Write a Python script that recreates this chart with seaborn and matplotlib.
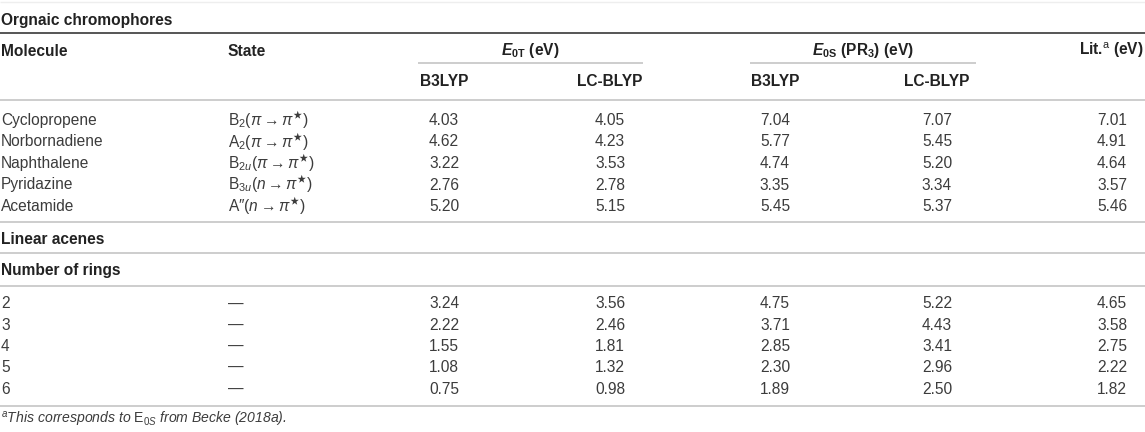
import matplotlib
matplotlib.use("Agg")
import matplotlib.pyplot as plt
import seaborn as sns
import pandas as pd

# table content
section_titles = ["Orgnaic chromophores", "Linear acenes", "Number of rings"]
header_labels = ["Molecule", "State", r"$\mathbfit{E}_{\mathbf{0T}}$ (eV)",
                 r"$\mathbfit{E}_{\mathbf{0S}}$ (PR$_{\mathbf{3}}$) (eV)", r"Lit.$^{\mathrm{a}}$ (eV)"]
method_labels = ["B3LYP", "LC-BLYP", "B3LYP", "LC-BLYP"]

molecules = ["Cyclopropene", "Norbornadiene", "Naphthalene", "Pyridazine", "Acetamide"]
states = [r"B$_{\mathrm{2}}$($\pi \rightarrow \pi^{★}$)",
          r"A$_{\mathrm{2}}$($\pi \rightarrow \pi^{★}$)",
          r"B$_{\mathrm{2}u}$($\pi \rightarrow \pi^{★}$)",
          r"B$_{\mathrm{3}u}$($n \rightarrow \pi^{★}$)",
          r"A″($n \rightarrow \pi^{★}$)"]
e0t_b3lyp_mol = [4.03, 4.62, 3.22, 2.76, 5.20]
e0t_lcblyp_mol = [4.05, 4.23, 3.53, 2.78, 5.15]
e0s_b3lyp_mol = [7.04, 5.77, 4.74, 3.35, 5.45]
e0s_lcblyp_mol = [7.07, 5.45, 5.20, 3.34, 5.37]
lit_mol = [7.01, 4.91, 4.64, 3.57, 5.46]

rings = ["2", "3", "4", "5", "6"]
ring_states = ["—"] * 5
e0t_b3lyp_ace = [3.24, 2.22, 1.55, 1.08, 0.75]
e0t_lcblyp_ace = [3.56, 2.46, 1.81, 1.32, 0.98]
e0s_b3lyp_ace = [4.75, 3.71, 2.85, 2.30, 1.89]
e0s_lcblyp_ace = [5.22, 4.43, 3.41, 2.96, 2.50]
lit_ace = [4.65, 3.58, 2.75, 2.22, 1.82]

footnote = r"$^{a}$This corresponds to $\mathrm{E}_{0S}$ from Becke (2018a)."

value_cols = ["e0t_b3lyp", "e0t_lcblyp", "e0s_b3lyp", "e0s_lcblyp", "lit"]
mol_df = pd.DataFrame({"name": molecules, "state": states,
                       "e0t_b3lyp": e0t_b3lyp_mol, "e0t_lcblyp": e0t_lcblyp_mol,
                       "e0s_b3lyp": e0s_b3lyp_mol, "e0s_lcblyp": e0s_lcblyp_mol,
                       "lit": lit_mol})
ace_df = pd.DataFrame({"name": rings, "state": ring_states,
                       "e0t_b3lyp": e0t_b3lyp_ace, "e0t_lcblyp": e0t_lcblyp_ace,
                       "e0s_b3lyp": e0s_b3lyp_ace, "e0s_lcblyp": e0s_lcblyp_ace,
                       "lit": lit_ace})

sns.set_theme(style="white")
plt.rcParams["font.family"] = ["Liberation Sans", "DejaVu Sans"]
plt.rcParams["mathtext.fontset"] = "custom"
plt.rcParams["mathtext.rm"] = "Liberation Sans"
plt.rcParams["mathtext.it"] = "Liberation Sans:italic"
plt.rcParams["mathtext.bf"] = "Liberation Sans:bold"
plt.rcParams["mathtext.bfit"] = "Liberation Sans:italic:bold"
plt.rcParams["mathtext.fallback"] = "stixsans"

fig = plt.figure(figsize=(11.45, 4.32), dpi=100)
ax = fig.add_axes([0, 0, 1, 1])
ax.set_xlim(0, 1145)
ax.set_ylim(432, 0)
ax.axis("off")

# layout (pixel coordinates)
name_x, state_x = 1, 228
col_centers = [444, 610, 775, 937, 1112]
fs = 11.2
dark = "#222222"
body = "#3c3c3c"
light_line = "#c9c9c9"


def put(x, y, s, ha="left", bold=False, color=body, size=fs, style="normal"):
    # y is the visual middle of the text line
    ax.text(x, y + 5.5, s, ha=ha, va="baseline", fontsize=size,
            fontweight="bold" if bold else "normal", color=color, fontstyle=style)


# rules
ax.hlines(1.5, 0, 1145, color="#eeeeee", lw=1.0)
ax.hlines(33, 0, 1145, color="#555555", lw=1.4)
ax.hlines(63, 418, 643, color=light_line, lw=1.3)
ax.hlines(63, 750, 976, color=light_line, lw=1.3)
for yy in [99.5, 222, 253, 286, 406]:
    ax.hlines(yy, 0, 1145, color=light_line, lw=1.3)

# section titles
for title, yy in zip(section_titles, [19, 238, 270]):
    put(name_x, yy, title, bold=True, color=dark)

# headers
put(name_x, 50, header_labels[0], bold=True, color=dark)
put(state_x, 50, header_labels[1], bold=True, color=dark)
put(530, 50, header_labels[2], ha="center", bold=True, color=dark)
put(863, 50, header_labels[3], ha="center", bold=True, color=dark)
put(1144, 50, header_labels[4], ha="right", bold=True, color=dark)
for lab, cx in zip(method_labels, col_centers[:4]):
    put(cx, 81, lab, ha="center", bold=True, color=dark)


def draw_block(df, y0, step):
    for i, row in df.iterrows():
        yy = y0 + step * i
        put(name_x, yy, row["name"])
        put(state_x, yy, row["state"])
        for col, cx in zip(value_cols, col_centers):
            put(cx, yy, f"{row[col]:.2f}", ha="center")


draw_block(mol_df, 119.5, 21.5)
draw_block(ace_df, 303, 21.25)

put(name_x, 418, footnote, size=10.1, style="italic")

fig.savefig("out.png", dpi=100)
